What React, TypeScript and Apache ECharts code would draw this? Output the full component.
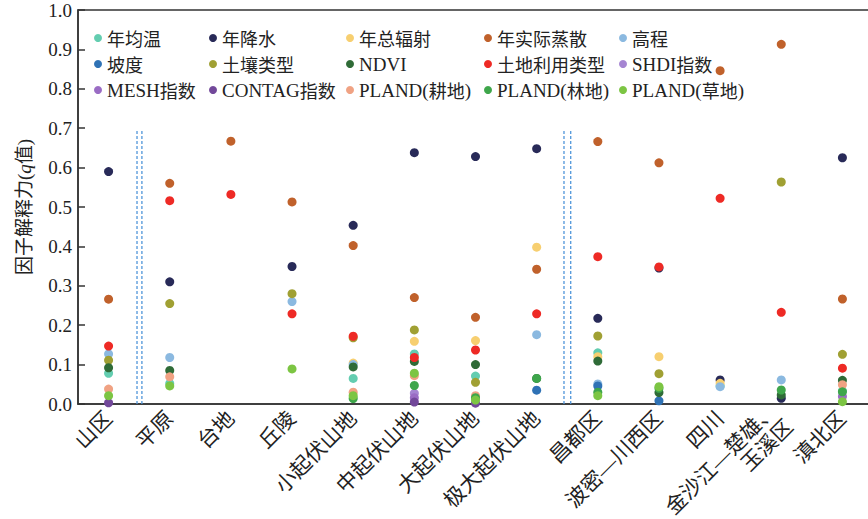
import React, { useEffect, useRef } from "react";
import * as echarts from "echarts";

const FONT = '"Liberation Serif", "Noto Sans CJK SC", serif';
const CJK_FONT = '"Noto Sans CJK SC", sans-serif';

const categories = [
  "山区", "平原", "台地", "丘陵", "小起伏山地", "中起伏山地", "大起伏山地", "极大起伏山地",
  "昌都区", "波密—川西区", "四川", "金沙江—楚雄、\n玉溪区", "滇北区",
];

const seriesNames = [
  "年均温", "年降水", "年总辐射", "年实际蒸散", "高程",
  "坡度", "土壤类型", "NDVI", "土地利用类型", "SHDI指数",
  "MESH指数", "CONTAG指数", "PLAND(耕地)", "PLAND(林地)", "PLAND(草地)",
];

const seriesColors = [
  "#63cdb0", "#282a58", "#f7cf70", "#c0612b", "#8bb9e0",
  "#2f72b5", "#a0a033", "#2f6b37", "#ee2a25", "#a585d2",
  "#9a6cc4", "#72489a", "#f0a283", "#3ea64b", "#7cc543",
];

const N = null;
const annualTemp = [0.078, 0.052, N, N, 0.065, 0.127, 0.071, N, 0.13, N, 0.046, N, 0.033];
const annualPrecip = [0.59, 0.31, N, 0.349, 0.4535, 0.638, 0.628, 0.648, 0.2175, 0.345, 0.061, 0.0145, 0.625];
const annualRadiation = [N, N, N, N, 0.104, 0.159, 0.161, 0.398, 0.12, 0.12, 0.0525, N, N];
const annualEvap = [0.266, 0.56, 0.667, 0.513, 0.402, 0.27, 0.22, 0.342, 0.666, 0.612, 0.846, 0.913, 0.2665];
const elevation = [0.127, 0.118, N, 0.26, 0.1, N, N, 0.176, 0.051, N, 0.044, 0.061, N];
const slope = [N, N, N, N, N, N, N, 0.035, 0.046, 0.008, N, N, N];
const soilType = [0.111, 0.255, N, 0.28, 0.168, 0.188, 0.055, N, 0.1726, 0.077, N, 0.5635, 0.126];
const ndvi = [0.092, 0.085, N, N, 0.094, 0.108, 0.1, 0.065, 0.109, 0.029, N, 0.023, 0.06];
const landUse = [0.147, 0.516, 0.532, 0.229, 0.172, 0.118, 0.137, 0.229, 0.374, 0.348, 0.522, 0.2327, 0.091];
const shdi = [N, N, N, N, N, 0.027, N, N, N, N, N, N, N];
const mesh = [N, N, N, N, N, 0.016, N, N, N, N, N, N, 0.019];
const contag = [0.003, N, N, N, N, 0.005, 0.002, N, N, N, N, N, N];
const plandCrop = [0.038, 0.069, N, N, 0.03, 0.072, 0.021, N, N, N, N, N, 0.049];
const plandForest = [N, N, N, N, 0.014, 0.047, 0.016, 0.065, 0.03, 0.04, N, 0.0355, 0.031];
const plandGrass = [0.021, 0.046, N, 0.089, 0.021, 0.078, 0.01, N, 0.021, 0.044, N, N, 0.006];

const seriesValues = [
  annualTemp, annualPrecip, annualRadiation, annualEvap, elevation,
  slope, soilType, ndvi, landUse, shdi,
  mesh, contag, plandCrop, plandForest, plandGrass,
];

const yTicks = [0, 0.1, 0.2, 0.3, 0.4, 0.5, 0.6, 0.7, 0.8, 0.9, 1.0];

// separator positions in category-band units (hidden value axis 0..13)
const separatorX = [0.965, 1.045, 7.947, 8.057];
const separatorTop = 0.695;

const legendLefts = [94, 209, 346, 484, 619];

function richName(name: string): string {
  const parts = name.match(/[\u4e00-\u9fff]+|[^\u4e00-\u9fff]+/g) || [name];
  return parts.map((p) => (/[\u4e00-\u9fff]/.test(p) ? `{c|${p}}` : `{l|${p}}`)).join("");
}

export default function App() {
  const ref = useRef<HTMLDivElement>(null);
  useEffect(() => {
    if (!ref.current) return;
    const chart = echarts.init(ref.current, undefined, { renderer: "svg" });

    const legends = legendLefts.map((left, c) => ({
      orient: "vertical",
      left,
      top: 28,
      padding: 0,
      data: [seriesNames[c], seriesNames[c + 5], seriesNames[c + 10]],
      icon: "circle",
      itemWidth: 8,
      itemHeight: 8,
      itemGap: 6,
      formatter: (n: string) => richName(n),
      textStyle: {
        fontFamily: FONT,
        fontSize: 18,
        color: "#222",
        lineHeight: 20,
        rich: {
          l: { fontFamily: FONT, fontSize: 19, color: "#222", lineHeight: 20 },
          c: { fontFamily: CJK_FONT, fontSize: 18, color: "#222", lineHeight: 20 },
        },
      },
    }));

    const scatterSeries = seriesNames.map((name, i) => ({
      name,
      type: "scatter",
      xAxisIndex: 0,
      yAxisIndex: 0,
      symbol: "circle",
      symbolSize: 9,
      itemStyle: { color: seriesColors[i], opacity: 1 },
      data: seriesValues[i],
    }));

    const sepSeries = separatorX.map((x) => ({
      type: "line",
      xAxisIndex: 1,
      yAxisIndex: 0,
      symbol: "none",
      silent: true,
      lineStyle: { color: "#4f95da", width: 1.3, type: [3, 2] },
      data: [
        [x, 0],
        [x, separatorTop],
      ],
    }));

    chart.setOption({
      animation: false,
      grid: {
        left: 78,
        top: 10,
        width: 795,
        height: 394,
        show: true,
        borderColor: "#333",
        borderWidth: 1.5,
        containLabel: false,
        outerBoundsMode: "none",
      },
      legend: legends,
      xAxis: [
        {
          type: "category",
          data: categories,
          axisLine: { lineStyle: { color: "#333", width: 1.5 } },
          axisTick: { inside: true, length: 7, interval: 0, lineStyle: { color: "#333", width: 1.5 } },
          axisLabel: {
            rotate: 45,
            interval: 0,
            fontFamily: FONT,
            fontSize: 21,
            color: "#222",
            margin: 11,
            lineHeight: 23,
          },
        },
        { type: "value", min: 0, max: 13, show: false },
      ],
      yAxis: {
        type: "value",
        min: 0,
        max: 1,
        interval: 0.1,
        name: "{a|因子解释力(}{b|q}{a|值)}",
        nameLocation: "middle",
        nameGap: 44,
        nameRotate: 90,
        nameTextStyle: {
          rich: {
            a: { fontFamily: FONT, fontSize: 19, color: "#222" },
            b: { fontFamily: FONT, fontSize: 19, fontStyle: "italic", color: "#222" },
          },
        },
        axisLine: { show: true, lineStyle: { color: "#333", width: 1.5 } },
        axisTick: { show: true, inside: true, length: 7, lineStyle: { color: "#333", width: 1.5 } },
        splitLine: { show: false },
        axisLabel: {
          fontFamily: FONT,
          fontSize: 19,
          color: "#222",
          margin: 6,
          formatter: (v: number) => (yTicks.some((t) => Math.abs(t - v) < 1e-9) ? v.toFixed(1) : ""),
        },
      },
      series: [...sepSeries, ...scatterSeries],
    });

    return () => chart.dispose();
  }, []);

  return (
    <div
      ref={ref}
      style={{ position: "fixed", left: 0, top: 0, width: 868, height: 519, background: "#fff" }}
    />
  );
}
